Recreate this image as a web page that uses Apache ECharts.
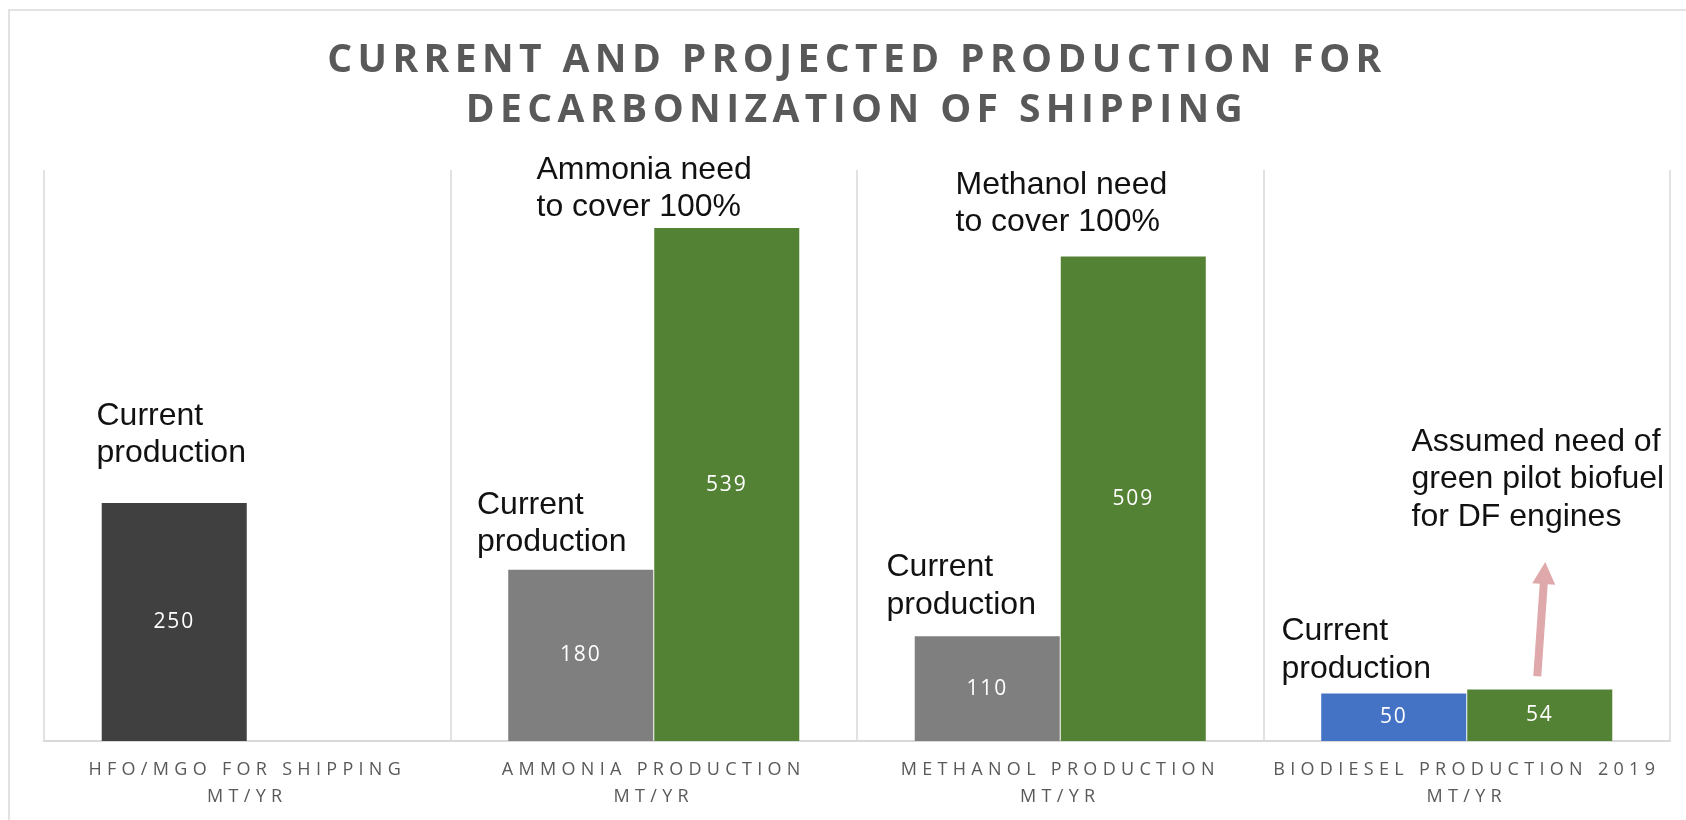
<!DOCTYPE html>
<html>
<head>
<meta charset="utf-8">
<title>Current and projected production for decarbonization of shipping</title>
<script src="https://cdn.jsdelivr.net/npm/echarts@6/dist/echarts.min.js"></script>
<style>
  html, body { margin: 0; padding: 0; background: #ffffff; }
  #chart { width: 1686px; height: 820px; }
</style>
</head>
<body>
<div id="chart"></div>
<script>
// ---- data ----
const categories = [
  'HFO/MGO FOR SHIPPING\nMT/YR',
  'AMMONIA PRODUCTION\nMT/YR',
  'METHANOL PRODUCTION\nMT/YR',
  'BIODIESEL PRODUCTION 2019\nMT/YR'
];
const currentProduction = [250, 180, 110, 50];
const requiredProduction = [null, 539, 509, 54];
const currentColors = ['#404040', '#7f7f7f', '#7f7f7f', '#4472c4'];
const requiredColor = '#548235';
const titleLines = ['CURRENT AND PROJECTED PRODUCTION FOR', 'DECARBONIZATION OF SHIPPING'];
const noteTexts = [
  'Current\nproduction',
  'Current\nproduction',
  'Ammonia need\nto cover 100%',
  'Methanol need\nto cover 100%',
  'Current\nproduction',
  'Current\nproduction',
  'Assumed need of\ngreen pilot biofuel\nfor DF engines'
];
// pilot-fuel arrow rises above the biodiesel need bar (value units)
const pilotArrowValues = [68, 188];

// ---- tracked (letter-spaced) text, keyed by font size ----
const letterSpacingBySize = { '39px': '5.4px', '18px': '5.3px', '21px': '1.8px' };
const nativeFillText = CanvasRenderingContext2D.prototype.fillText;
CanvasRenderingContext2D.prototype.fillText = function (text, x, y, maxWidth) {
  const m = /(\d+(?:\.\d+)?px)/.exec(this.font);
  if ('letterSpacing' in this) {
    this.letterSpacing = (m && letterSpacingBySize[m[1]]) || '0px';
  }
  return maxWidth === undefined
    ? nativeFillText.call(this, text, x, y)
    : nativeFillText.call(this, text, x, y, maxWidth);
};

const CATEGORY_GAP = 0.284;
const BAR_GAP = 0.007;

const chart = echarts.init(document.getElementById('chart'), null, { renderer: 'canvas' });

const valueLabel = {
  show: true,
  position: 'inside',
  color: '#ffffff',
  fontFamily: '"Open Sans", sans-serif',
  fontSize: 21
};

chart.setOption({
  animation: false,
  backgroundColor: '#ffffff',
  grid: { left: 44, right: 16, top: 170, bottom: 79, containLabel: false },
  xAxis: {
    type: 'category',
    data: categories,
    axisLine: { show: true, lineStyle: { color: '#d9d9d9', width: 2 } },
    axisTick: { show: false },
    axisLabel: {
      interval: 0,
      margin: 15,
      color: '#595959',
      fontFamily: '"Open Sans", sans-serif',
      fontWeight: 'normal',
      fontSize: 18,
      lineHeight: 27
    },
    splitLine: { show: true, interval: 0, lineStyle: { color: '#d9d9d9', width: 1.5 } }
  },
  yAxis: { type: 'value', min: 0, max: 600, show: false },
  series: [
    {
      name: 'Current production',
      type: 'bar',
      barGap: (BAR_GAP * 100) + '%',
      barCategoryGap: (CATEGORY_GAP * 100) + '%',
      data: currentProduction.map((v, i) => ({ value: v, itemStyle: { color: currentColors[i] } })),
      label: valueLabel
    },
    {
      name: 'Required production',
      type: 'bar',
      data: requiredProduction,
      itemStyle: { color: requiredColor },
      label: valueLabel
    }
  ]
});

// ---- annotations: frame, title, notes and arrow ----
const noteLayout = [
  [96.5, 416], [477, 505], [536.5, 170], [955.5, 185],
  [886.5, 567.5], [1281.5, 631.5], [1411.5, 442]
];
const NOTE_LINE = 37.5;

function arrowPoints(tail, tip, shaftW, headW, headLen) {
  const dx = tip[0] - tail[0], dy = tip[1] - tail[1];
  const len = Math.hypot(dx, dy);
  const ux = dx / len, uy = dy / len;
  const nx = -uy, ny = ux;
  const bx = tip[0] - ux * headLen, by = tip[1] - uy * headLen;
  return [
    [tail[0] + nx * shaftW / 2, tail[1] + ny * shaftW / 2],
    [bx + nx * shaftW / 2, by + ny * shaftW / 2],
    [bx + nx * headW / 2, by + ny * headW / 2],
    tip,
    [bx - nx * headW / 2, by - ny * headW / 2],
    [bx - nx * shaftW / 2, by - ny * shaftW / 2],
    [tail[0] - nx * shaftW / 2, tail[1] - ny * shaftW / 2]
  ];
}

const c0 = chart.convertToPixel({ xAxisIndex: 0 }, 0);
const c1 = chart.convertToPixel({ xAxisIndex: 0 }, 1);
const c3 = chart.convertToPixel({ xAxisIndex: 0 }, 3);
const band = c1 - c0;
const barW = band * (1 - CATEGORY_GAP) / (2 + BAR_GAP);
const needCenter = c3 + barW * (1 + BAR_GAP) / 2;
const yFrom = chart.convertToPixel({ yAxisIndex: 0 }, pilotArrowValues[0]);
const yTo = chart.convertToPixel({ yAxisIndex: 0 }, pilotArrowValues[1]);

const graphics = [
  {
    type: 'rect', silent: true, z: -1,
    shape: { x: 9, y: 10, width: 1700, height: 900 },
    style: { fill: 'none', stroke: '#d9d9d9', lineWidth: 1.5 }
  },
  {
    type: 'text', silent: true,
    x: 857, y: 36,
    style: {
      text: titleLines.join('\n'),
      fill: '#595959',
      font: 'bold 39px "Open Sans", sans-serif',
      lineHeight: 50,
      align: 'center', verticalAlign: 'top',
      textAlign: 'center', textVerticalAlign: 'top'
    }
  },
  {
    type: 'polygon', silent: true,
    shape: { points: arrowPoints([needCenter - 2.5, yFrom], [needCenter + 5.5, yTo], 8, 23, 22) },
    style: { fill: '#dfa8aa' }
  }
];
noteTexts.forEach((t, i) => {
  graphics.push({
    type: 'text', silent: true,
    x: noteLayout[i][0], y: noteLayout[i][1] - NOTE_LINE / 2,
    style: {
      text: t,
      fill: '#111111',
      font: '32px "Liberation Sans", Arial, sans-serif',
      lineHeight: NOTE_LINE,
      align: 'left', verticalAlign: 'top',
      textAlign: 'left', textVerticalAlign: 'top'
    }
  });
});
chart.setOption({ graphic: graphics });
</script>
</body>
</html>
